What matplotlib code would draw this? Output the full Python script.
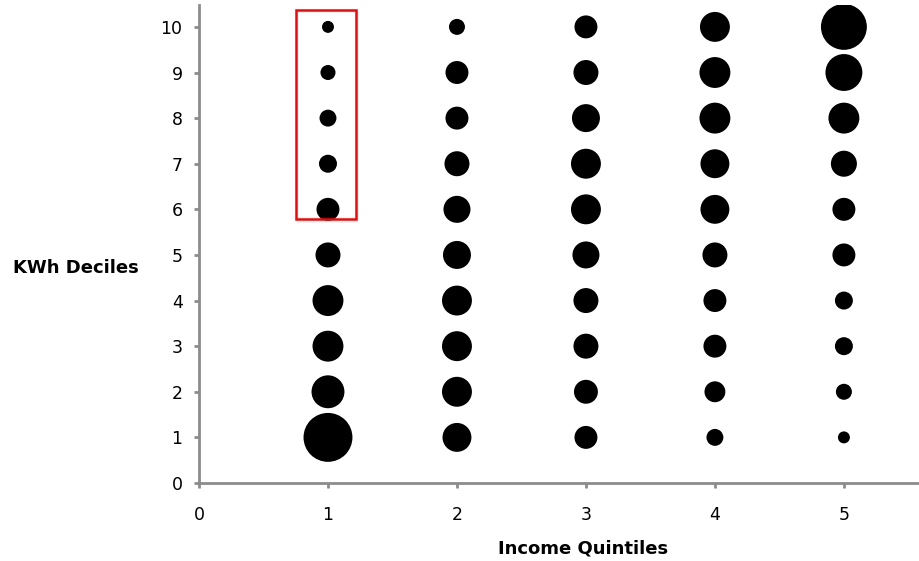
import matplotlib
matplotlib.use("Agg")
from matplotlib import pyplot as plt
from matplotlib.patches import Rectangle

#==============DATA==============
# income quintiles (x) and kWh deciles (y)
quintiles = [1, 2, 3, 4, 5]
deciles = [1, 2, 3, 4, 5, 6, 7, 8, 9, 10]
# share (%) of each income quintile falling in each kWh decile
q1 = [31.8, 14.4, 12.7, 12.7, 8.3, 7.0, 4.3, 3.8, 3.0, 1.9]
q2 = [11.1, 11.9, 11.9, 11.9, 10.4, 9.7, 8.3, 7.0, 7.0, 3.4]
q3 = [7.0, 7.6, 8.3, 8.3, 9.7, 11.9, 11.9, 10.4, 8.3, 7.0]
q4 = [3.8, 5.8, 7.0, 7.0, 8.3, 11.1, 11.1, 12.7, 12.7, 11.9]
q5 = [1.9, 3.4, 4.3, 4.3, 7.0, 7.0, 9.0, 12.7, 18.1, 28.0]
shares = [q1, q2, q3, q4, q5]

#==============FIGURE==============
fig = plt.figure(figsize=(9.2, 5.61), dpi=100)
ax = fig.add_axes([199/920, 78/561, 721/920, 478/561])

scale = 39.0  # marker area (pt^2) per percentage point
for q, vals in zip(quintiles, shares):
    ax.scatter([q] * len(deciles), deciles, s=[v * scale for v in vals],
               color="black", edgecolors="none", zorder=3)

# highlight box around the top deciles of quintile 1
ax.add_patch(Rectangle((0.75, 5.78), 0.47, 4.6, fill=False,
                       edgecolor="#ff0000", linewidth=1.8, zorder=4))

ax.set_xlim(0, 5.59)
ax.set_ylim(0, 10.48)
ax.set_xticks(range(0, 6))
ax.set_yticks(range(0, 11))

for side in ["top", "right"]:
    ax.spines[side].set_visible(False)
for side in ["left", "bottom"]:
    ax.spines[side].set_color("#8c8c8c")
    ax.spines[side].set_linewidth(2)
ax.tick_params(colors="#8c8c8c", labelcolor="black", labelsize=12.5,
               length=3.8, width=2, direction="out")
ax.tick_params(axis="x", pad=13)
ax.tick_params(axis="y", pad=8)

fig.text(76/920, 1 - 268/561, "KWh Deciles", ha="center", va="center",
         fontsize=13, fontweight="bold")
fig.text(583/920, 1 - 548/561, "Income Quintiles", ha="center", va="center",
         fontsize=13, fontweight="bold")

plt.savefig("out.png", dpi=100)
